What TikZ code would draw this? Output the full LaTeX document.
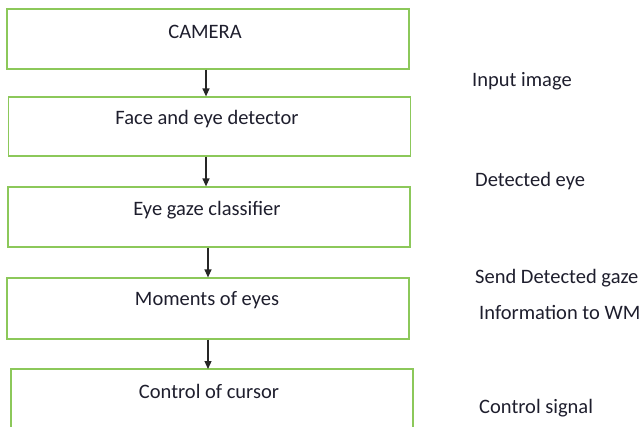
\documentclass[tikz,border=0pt]{standalone}
\usepackage{fontspec}
\setmainfont{Carlito}
\usetikzlibrary{arrows.meta}
\definecolor{boxgreen}{RGB}{140,200,90}
\definecolor{inkc}{RGB}{30,30,45}
\begin{document}
\begin{tikzpicture}[x=1pt,y=-1pt,
  stepbox/.style={draw=boxgreen,line width=1.2pt,minimum width=402pt,minimum height=60pt,inner sep=0pt},
  txt/.style={font=\fontsize{20.5}{24}\selectfont,text=inkc,inner sep=0pt},
  lbl/.style={font=\fontsize{20.5}{24}\selectfont,text=inkc,inner sep=0pt,anchor=west},
  flow/.style={-{Triangle[width=7pt,length=8pt]},line width=1.2pt,black!85}]
\useasboundingbox (0,0) rectangle (642,426);
\node[stepbox] (b1) at (208,39) {};
\node[stepbox,minimum height=59pt] (b2) at (209.5,126.5) {};
\node[stepbox] (b3) at (209,217) {};
\node[stepbox,minimum height=61pt] (b4) at (208,308.5) {};
\draw[boxgreen,line width=1.2pt] (11,430) -- (11,369) -- (413,369) -- (413,430);
\coordinate (b5n) at (208,369);
\node[txt] (t1) at (205,32) {CAMERA};
\node[txt] (t2) at (207,119) {Face and eye detector};
\node[txt] (t3) at (207,210) {Eye gaze classifier};
\node[txt] (t4) at (207,300) {Moments of eyes};
\node[txt] (t5) at (209,391) {Control of cursor};
\node[lbl] (l1) at (472,81) {Input image};
\node[lbl] (l2) at (475,181) {Detected eye};
\node[lbl] (l3) at (475,278) {Send Detected gaze};
\node[lbl] (l4) at (479,312) {Information to WM};
\node[lbl] (l5) at (479,408) {Control signal};
\draw[flow] (b1.south -| 206,0) -- (b2.north -| 206,0);
\draw[flow] (b2.south -| 206,0) -- (b3.north -| 206,0);
\draw[flow] (b3.south -| 208,0) -- (b4.north -| 208,0);
\draw[flow] (b4.south -| 208,0) -- (b5n);
\end{tikzpicture}
\end{document}
